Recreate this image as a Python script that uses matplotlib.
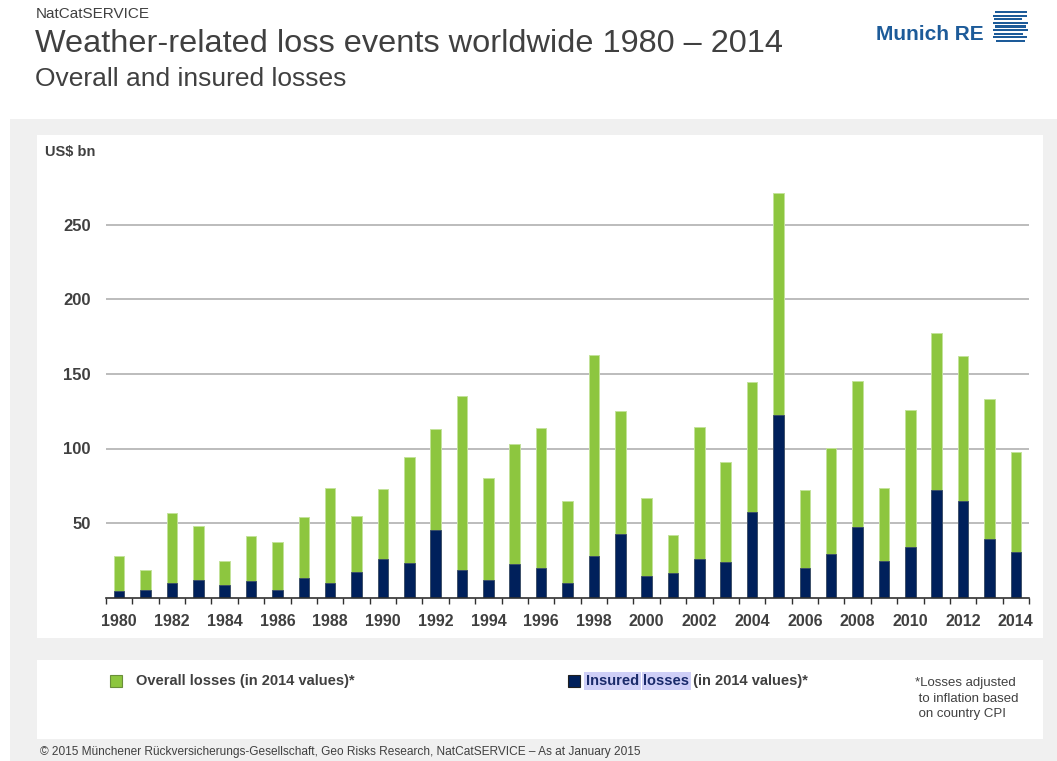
import matplotlib
matplotlib.use("Agg")
import matplotlib.pyplot as plt
from matplotlib.patches import Rectangle

years = list(range(1980, 2015))
overall = [28, 18.5, 56.5, 48, 24.5, 41.5, 37, 54, 73.5, 54.7,
           72.6, 94.3, 112.9, 135.2, 80, 103, 113.5, 64.5, 162.8, 125,
           66.6, 42.2, 114.2, 91.1, 144.8, 271.3, 71.9, 100.3, 145.5, 73.5,
           125.6, 177.7, 162, 133, 97.9]
insured = [4.2, 5, 9.5, 11.7, 8.2, 10.9, 5, 13.3, 9.5, 16.9,
           25.8, 22.9, 45.3, 18.5, 11.7, 22.3, 20, 9.5, 28, 42.4,
           14.6, 16.2, 25.8, 23.6, 57.2, 122.7, 20, 29, 47.5, 24.5,
           34.1, 72.1, 64.8, 39.3, 30.3]
y_ticks = [50, 100, 150, 200, 250]

W, H = 1057, 761
GREEN = "#8dc63f"
NAVY = "#00205b"
TXT = "#404040"

plt.rcParams["font.family"] = ["Liberation Sans", "DejaVu Sans"]
fig = plt.figure(figsize=(W / 100, H / 100), dpi=100)


def fx(x):
    return x / W


def fy(y):
    return 1 - y / H


def box(x0, y0, x1, y1, color, **kw):
    fig.add_artist(Rectangle((fx(x0), fy(y1)), (x1 - x0) / W, (y1 - y0) / H,
                             transform=fig.transFigure, facecolor=color,
                             edgecolor=kw.pop("ec", "none"), **kw))


# backgrounds
box(10, 119, W, H, "#f0f0f0", zorder=0)
box(37, 135, 1043, 638, "white", zorder=0)
box(37, 660, 1043, 739, "white", zorder=0)

# header
fig.text(fx(36), fy(14), "NatCatSERVICE", fontsize=11, color=TXT, va="center")
fig.text(fx(35), fy(44), "Weather-related loss events worldwide 1980 \u2013 2014",
         fontsize=23.4, color=TXT, va="center")
fig.text(fx(35), fy(79), "Overall and insured losses", fontsize=19, color=TXT, va="center")
fig.text(fx(876), fy(34), "Munich RE", fontsize=15, fontweight="bold",
         color="#1d5b99", va="center")
stripes = [(995, 1027), (993, 1027), (994, 1022), (993, 1028),
           (995, 1026), (993, 1028), (994, 1023), (993, 1027), (996, 1025)]
for i, (a, b) in enumerate(stripes):
    y = 11 + i * 3.6
    box(a, y, b, y + 2.1, "#1d5b99", zorder=3)

# main chart
bottom_px, top_val, ppu = 597.5, 280, 1.49
ax = fig.add_axes([fx(106), fy(bottom_px), 923 / W, top_val * ppu / H])
x = list(range(len(years)))
ax.bar(x, overall, width=0.4, color=GREEN, edgecolor="#c3e29a", linewidth=0.7, zorder=2)
ax.bar(x, insured, width=0.4, color=NAVY, edgecolor="#3a4a6a", linewidth=0.6, zorder=3)
ax.set_xlim(-0.5, len(years) - 0.5)
ax.set_ylim(0, top_val)
ax.set_yticks(y_ticks)
ax.set_yticklabels([str(v) for v in y_ticks], fontsize=12, fontweight="bold", color=TXT)
ax.tick_params(axis="y", length=0, pad=11)
ax.grid(axis="y", color="#bcbcbc", linewidth=1.4, zorder=1)
ax.set_axisbelow(True)
ax.set_xticks(x[::2])
ax.set_xticklabels([str(y) for y in years[::2]], fontsize=11.5, fontweight="bold", color=TXT)
ax.set_xticks([i + 0.5 for i in range(-1, len(years))], minor=True)
ax.tick_params(axis="x", which="major", length=0, pad=12)
ax.tick_params(axis="x", which="minor", length=4, width=1, color="#303030", direction="out")
for s in ["top", "right", "left"]:
    ax.spines[s].set_visible(False)
ax.spines["bottom"].set_color("#303030")
ax.spines["bottom"].set_linewidth(1.2)
ax.spines["bottom"].set_zorder(4)
fig.text(fx(45), fy(152), "US$ bn", fontsize=10.5, fontweight="bold", color=TXT, va="center")

# legend
box(110, 675, 122, 687, GREEN, ec="#6a8f3a", lw=0.8, zorder=3)
fig.text(fx(136), fy(681), "Overall losses (in 2014 values)*", fontsize=10.5,
         fontweight="bold", color=TXT, va="center")
box(568, 675, 580, 687, NAVY, ec="#202020", lw=0.8, zorder=3)
hl = dict(facecolor="#cfcff7", edgecolor="none", pad=1.2)
t1 = fig.text(fx(586), fy(681), "Insured", fontsize=10.5, fontweight="bold",
              color="#1a2a6a", va="center", bbox=hl)
t2 = ax.annotate(" ", xy=(1, 0), xycoords=t1, va="bottom", ha="left",
                 fontsize=10.5, fontweight="bold", annotation_clip=False)
t3 = ax.annotate("losses", xy=(1, 0), xycoords=t2, va="bottom", ha="left",
                 fontsize=10.5, fontweight="bold", color="#1a2a6a", bbox=hl,
                 annotation_clip=False)
ax.annotate(" (in 2014 values)*", xy=(1, 0), xycoords=t3, va="bottom", ha="left",
            fontsize=10.5, fontweight="bold", color=TXT, annotation_clip=False)
fig.text(fx(915), fy(677), "*Losses adjusted\n to inflation based\n on country CPI",
         fontsize=9.5, color=TXT, va="top", linespacing=1.4)

# footer
fig.text(fx(40), fy(752), "\u00a9 2015 M\u00fcnchener R\u00fcckversicherungs-Gesellschaft, "
         "Geo Risks Research, NatCatSERVICE \u2013 As at January 2015",
         fontsize=8.6, color=TXT, va="center")

fig.savefig("out.png", dpi=100, facecolor="white")
